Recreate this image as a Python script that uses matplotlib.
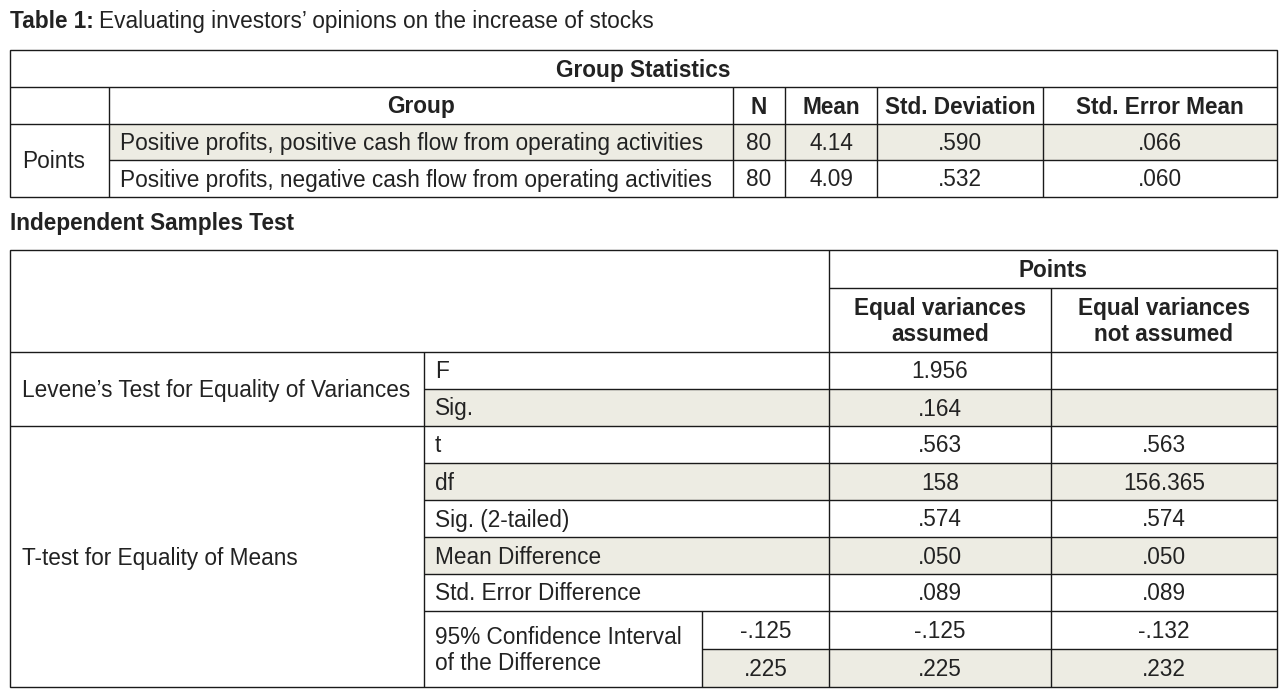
import matplotlib
matplotlib.use("Agg")
import matplotlib.pyplot as plt
from matplotlib.patches import Rectangle

plt.rcParams['font.family'] = ['Liberation Sans', 'DejaVu Sans']

# ---- data ----
group_labels = ["Positive profits, positive cash flow from operating activities",
                "Positive profits, negative cash flow from operating activities"]
n_values = ["80", "80"]
means = ["4.14", "4.09"]
std_devs = [".590", ".532"]
std_err_means = [".066", ".060"]

levene_labels = ["F", "Sig."]
levene_assumed = ["1.956", ".164"]

ttest_labels = ["t", "df", "Sig. (2-tailed)", "Mean Difference", "Std. Error Difference"]
ttest_assumed = [".563", "158", ".574", ".050", ".089"]
ttest_not_assumed = [".563", "156.365", ".574", ".050", ".089"]

ci_label = "95% Confidence Interval\nof the Difference"
ci_bounds = ["-.125", ".225"]
ci_assumed = ["-.125", ".225"]
ci_not_assumed = ["-.132", ".232"]

# ---- layout (pixels) ----
W, H = 1285, 696
LEFT, RIGHT = 10, 1277
SHADE = "#edece3"
LINE = "#1a1a1a"
TXT = "#222222"
FS = 16.3
DY = 1.5  # small nudge so text sits like the reference

fig = plt.figure(figsize=(W / 100, H / 100), dpi=100)
ax = fig.add_axes([0, 0, 1, 1])
ax.set_xlim(0, W)
ax.set_ylim(H, 0)
ax.axis("off")


def hline(y, x0, x1):
    ax.plot([x0, x1], [y, y], color=LINE, lw=1.0, solid_capstyle="butt")


def vline(x, y0, y1):
    ax.plot([x, x], [y0, y1], color=LINE, lw=1.0, solid_capstyle="butt")


def shade(x0, x1, y0, y1):
    ax.add_patch(Rectangle((x0, y0), x1 - x0, y1 - y0, facecolor=SHADE, edgecolor="none", zorder=0))


def txt(x, y, s, ha="center", bold=False, **kw):
    ax.text(x, y + DY, s, ha=ha, va="center", fontsize=FS, color=TXT,
            fontweight="bold" if bold else "normal", **kw)


# title
t1 = ax.text(LEFT, 20 + DY, "Table 1:", ha="left", va="center", fontsize=FS, fontweight="bold", color=TXT)
fig.canvas.draw()
bb = t1.get_window_extent().transformed(ax.transData.inverted())
ax.text(bb.x1 + 5, 20 + DY, "Evaluating investors’ opinions on the increase of stocks",
        ha="left", va="center", fontsize=FS, color=TXT)

# ---- Table 1: Group Statistics ----
rows1 = [50, 87, 124, 160, 197]
cols1 = [LEFT, 109, 733, 785, 877, 1043, RIGHT]

shade(cols1[1], RIGHT, rows1[2], rows1[3])

ax.add_patch(Rectangle((LEFT, rows1[0]), RIGHT - LEFT, rows1[-1] - rows1[0],
                       fill=False, edgecolor=LINE, lw=1.0))
hline(rows1[1], LEFT, RIGHT)
hline(rows1[2], LEFT, RIGHT)
hline(rows1[3], cols1[1], RIGHT)
vline(cols1[1], rows1[1], rows1[-1])
for x in cols1[2:-1]:
    vline(x, rows1[1], rows1[-1])

txt((LEFT + RIGHT) / 2, (rows1[0] + rows1[1]) / 2, "Group Statistics", bold=True)
headers1 = ["Group", "N", "Mean", "Std. Deviation", "Std. Error Mean"]
for i, h in enumerate(headers1):
    txt((cols1[i + 1] + cols1[i + 2]) / 2, (rows1[1] + rows1[2]) / 2, h, bold=True)

txt(22, rows1[3], "Points", ha="left")
for r in range(2):
    yc = (rows1[2 + r] + rows1[3 + r]) / 2
    txt(cols1[1] + 11, yc, group_labels[r], ha="left")
    for j, col in enumerate([n_values, means, std_devs, std_err_means]):
        txt((cols1[j + 2] + cols1[j + 3]) / 2, yc, col[r])

# ---- Independent Samples Test ----
ax.text(LEFT, 222 + DY, "Independent Samples Test", ha="left", va="center",
        fontsize=FS, fontweight="bold", color=TXT)

rows2 = [250, 288, 352, 389, 426, 463, 500, 537, 574, 611, 649, 687]
c_lab, c_ci, c_a, c_b = 424, 702, 829, 1051

# shaded rows: Sig., df, Mean Difference, CI upper
for r0, r1 in [(389, 426), (463, 500), (537, 574)]:
    shade(c_lab, RIGHT, r0, r1)
shade(c_ci, RIGHT, rows2[10], rows2[11])

ax.add_patch(Rectangle((LEFT, rows2[0]), RIGHT - LEFT, rows2[-1] - rows2[0],
                       fill=False, edgecolor=LINE, lw=1.0))
vline(c_a, rows2[0], rows2[-1])
vline(c_b, rows2[1], rows2[-1])
vline(c_lab, rows2[2], rows2[-1])
vline(c_ci, rows2[9], rows2[-1])
hline(rows2[1], c_a, RIGHT)
hline(rows2[2], LEFT, RIGHT)
hline(rows2[3], c_lab, RIGHT)
hline(rows2[4], LEFT, RIGHT)
for y in rows2[5:10]:
    hline(y, c_lab, RIGHT)
hline(rows2[10], c_ci, RIGHT)

xa = (c_a + c_b) / 2
xb = (c_b + RIGHT) / 2
txt((c_a + RIGHT) / 2, (rows2[0] + rows2[1]) / 2, "Points", bold=True)
txt(xa, (rows2[1] + rows2[2]) / 2, "Equal variances\nassumed", bold=True)
txt(xb, (rows2[1] + rows2[2]) / 2, "Equal variances\nnot assumed", bold=True)

txt(22, rows2[3], "Levene’s Test for Equality of Variances", ha="left")
txt(22, (rows2[4] + rows2[-1]) / 2, "T-test for Equality of Means", ha="left")

for i in range(2):
    yc = (rows2[2 + i] + rows2[3 + i]) / 2
    txt(c_lab + 11, yc, levene_labels[i], ha="left")
    txt(xa, yc, levene_assumed[i])

for i in range(5):
    yc = (rows2[4 + i] + rows2[5 + i]) / 2
    txt(c_lab + 11, yc, ttest_labels[i], ha="left")
    txt(xa, yc, ttest_assumed[i])
    txt(xb, yc, ttest_not_assumed[i])

txt(c_lab + 11, rows2[10], ci_label, ha="left")
for i in range(2):
    yc = (rows2[9 + i] + rows2[10 + i]) / 2
    txt((c_ci + c_a) / 2, yc, ci_bounds[i])
    txt(xa, yc, ci_assumed[i])
    txt(xb, yc, ci_not_assumed[i])

fig.savefig("out.png", dpi=100)
